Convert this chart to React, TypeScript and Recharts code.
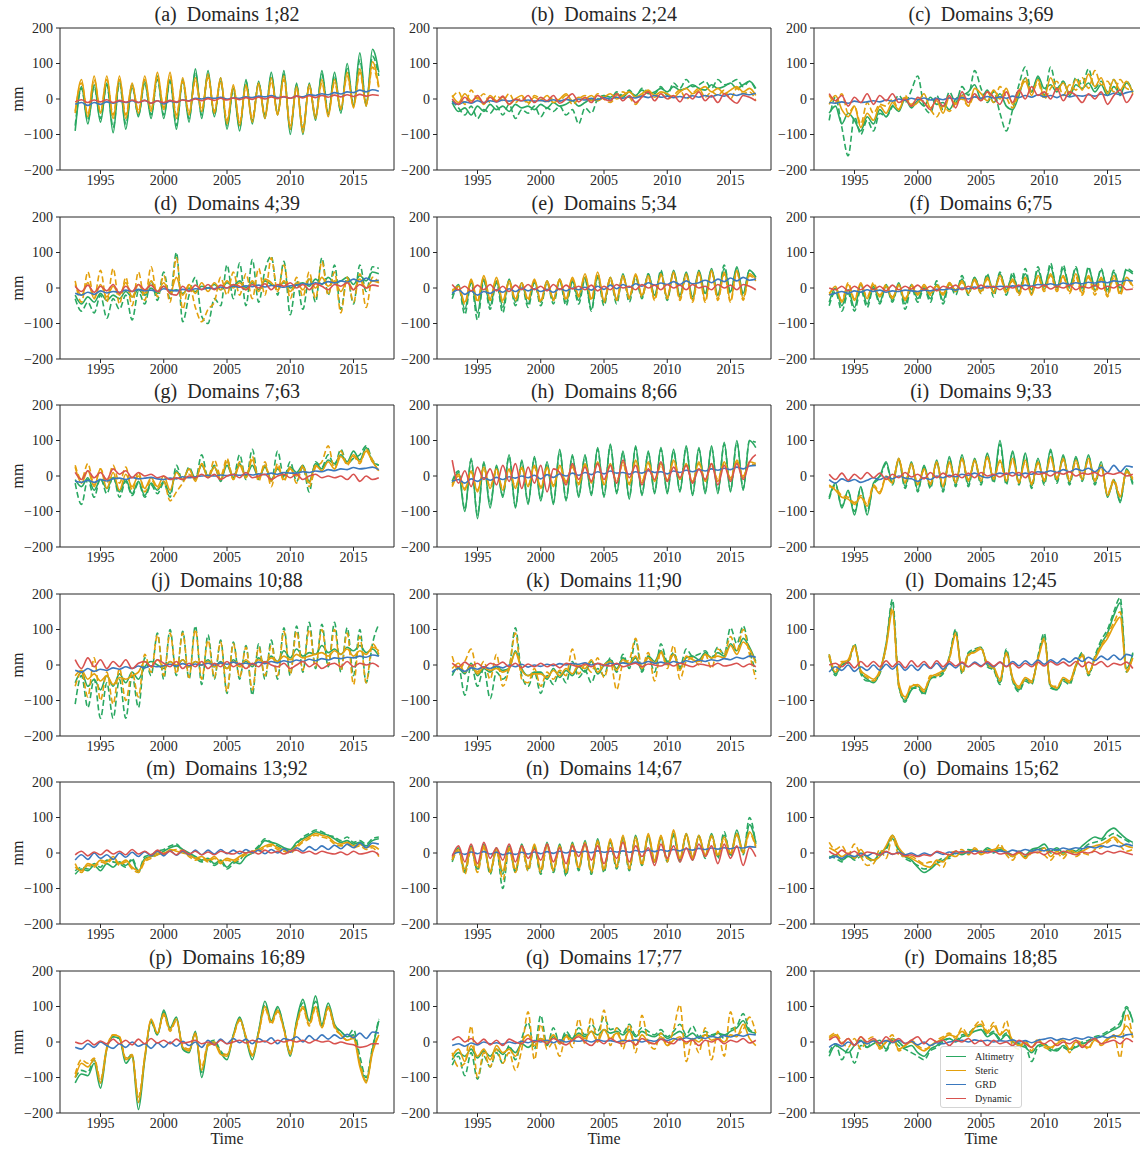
import React from "react";
import { LineChart, Line, XAxis, YAxis, ReferenceArea } from "recharts";

// one value every half year, starting 1993.0 and ending 2017.0 (49 values per series)
const startYear = 1993;
const stepYears = 0.5;

const panelTitles = [
  "(a)  Domains 1;82", "(b)  Domains 2;24", "(c)  Domains 3;69",
  "(d)  Domains 4;39", "(e)  Domains 5;34", "(f)  Domains 6;75",
  "(g)  Domains 7;63", "(h)  Domains 8;66", "(i)  Domains 9;33",
  "(j)  Domains 10;88", "(k)  Domains 11;90", "(l)  Domains 12;45",
  "(m)  Domains 13;92", "(n)  Domains 14;67", "(o)  Domains 15;62",
  "(p)  Domains 16;89", "(q)  Domains 17;77", "(r)  Domains 18;85",
];
const xTicks = [1995, 2000, 2005, 2010, 2015];
const yTicks = [-200, -100, 0, 100, 200];
const xDomain: [number, number] = [1991.8, 2018.2];
const yDomain: [number, number] = [-200, 200];

const altimetry: number[][] = [
  [-90,35,-70,40,-65,45,-95, 55,-85,40,-50,50,-55,65, -55,55,-85,55,-65,85,-55, 80,-50,60,-85,30,-90,55, -70,50,-55,75,-45,80,-100, 45,-100,45,-60,80,-45,75, -40,100,-20,130,-20,140,75],
  [-10,-35,-25,-45,-20,-35,-15, -30,-20,-35,-15,-25,-20,-30, -15,-25,-10,-20,-15,-5,-20, -10,0,-5,10,5,15,5, 20,10,25,15,20,30,20, 35,25,30,40,30,25,40, 30,35,45,30,40,50,30],
  [-40,-20,-70,-40,-60,-90,-50, -70,-30,-50,-20,-35,0,-25, -5,-20,5,-15,-10,-30,0, 10,20,40,0,25,-10,15, -20,-30,10,60,20,65,30, 40,20,50,10,40,30,45, 20,40,10,35,15,45,20],
  [-20,-45,-25,-40,-15,-35,-20, -30,-10,-25,-5,-20,0,-15, 5,-10,-5,-15,0,-10,5, 0,10,-5,15,5,20,0, 15,-5,20,10,5,15,0, 10,15,5,25,10,30,15, 20,30,10,35,20,45,40],
  [-20,10,-60,20,-70,25,-50, 20,-55,25,-40,15,-45,20, -40,20,-35,25,-40,20,-35, 30,-60,35,-40,30,-35,40, -30,35,-25,40,-20,45,-30, 50,-20,45,-25,50,-15,55, -20,55,-10,60,-15,50,30],
  [-40,0,-50,-5,-55,10,-45, 5,-40,10,-35,15,-45,10, -30,5,-30,10,-35,15,-10, 25,-15,30,-10,35,-10,40, -5,35,-10,40,-5,50,5, 60,0,55,5,55,0,55, 5,50,-5,45,0,50,40],
  [-10,-30,-5,-40,-10,-35,-5, -45,-10,-50,-15,-55,-20,-40, -15,-50,15,-10,20,-5,30, 0,25,-10,30,-5,35,0, 30,-5,25,-10,20,0,25, 10,30,-15,35,20,45,35, 60,40,70,45,80,40,30],
  [-20,10,-100,50,-120,40,-90, 30,-60,60,-90,45,-80,55, -70,40,-80,75,-70,60,-60, 60,-55,80,-60,90,-50,70, -65,85,-55,70,-50,80,-50, 75,-45,85,-55,80,-50,85, -50,95,-45,100,-40,100,80],
  [-60,-20,-90,-40,-110,-30,-110, -20,0,40,-20,50,-30,40, -40,30,-30,45,-40,55,-25, 60,-25,50,-20,65,-15,100, -20,70,-20,65,-30,50,-20, 75,-15,60,-20,55,-10,60, -20,40,-60,-10,-75,20,-20],
  [-50,-20,-60,-40,-70,-30,-60, -25,-50,-20,-40,-5,10,0, -10,10,-5,15,-5,10,0, 15,-5,10,-10,15,0,10, -5,20,5,25,10,40,20, 45,25,35,30,55,35,45, 30,50,40,55,35,45,25],
  [-20,-10,-25,5,-30,-10,-20, -5,-15,-10,40,-10,-30,-20, -20,-40,-10,-35,-15,-30,-5, -20,10,-25,0,15,-10,20, 0,20,-15,25,10,40,5, 30,-10,20,25,15,35,20, 35,25,60,40,75,50,10],
  [30,-25,0,10,55,-20,-40, -50,-20,60,175,-60,-100,-70, -60,-80,-40,-30,-20,20,95, -20,30,40,50,0,-10,-50, 40,-40,-70,-40,-50,20,80, -60,-70,-40,-50,0,30,-25, 20,60,90,140,175,-10,30],
  [-60,-45,-50,-35,-50,-30,-40, -25,-35,-20,-55,-15,-10,-5, 5,15,20,10,0,-10,-20, -15,-30,-20,-40,-25,-30,-10, 0,15,35,30,25,15,10, 30,40,50,60,55,50,40, 30,35,25,30,20,35,40],
  [-20,15,-50,20,-45,25,-55, 15,-60,20,-50,25,-45,20, -55,30,-50,25,-60,30,-45, 35,-55,40,-50,35,-40,45, -45,50,-30,50,-25,45,-20, 55,-20,55,-15,50,-10,55, -10,50,-5,65,0,80,30],
  [-15,-5,-20,-10,-15,0,-10, -20,0,15,50,10,-10,-20, -40,-55,-45,-30,-20,-10,0, -5,5,10,0,15,5,10, 0,-10,5,-5,10,15,25, 5,15,0,10,5,20,35, 45,40,60,70,55,40,30],
  [-115,-90,-95,-60,-130,-20,15, 10,-60,-40,-190,-50,60,20, 90,40,70,-20,-30,30,-100, -10,0,-30,-50,20,70,10, -50,30,115,60,100,40,-40, 60,120,60,130,50,110,50, 30,15,20,-60,-110,-20,60],
  [-50,-30,-40,-20,-45,-25,-40, -20,-35,-15,-30,-5,-15,0, 10,-5,15,0,20,10,25, 15,30,20,35,25,30,20, 35,15,30,20,15,25,10, 20,30,15,25,10,20,15, 25,20,30,40,60,30,25],
  [-40,-10,-20,-30,-10,5,-15, -5,5,-20,10,0,-15,-10, -30,-40,-20,-10,5,10,0, 15,20,30,35,15,25,5, 20,0,-10,-15,-30,-10,-5, -20,-25,-10,-20,-15,-5,0, 10,15,25,35,45,95,60],
];

const altimetryDash: number[][] = [
  [-75,30,-60,35,-55,40,-80, 45,-70,35,-45,45,-45,55, -45,50,-75,50,-55,75,-45, 70,-45,50,-75,25,-80,50, -60,45,-45,65,-40,70,-85, 40,-85,40,-50,70,-40,65, -35,85,-15,110,-15,120,65],
  [-5,-25,-45,-20,-55,-30,-40, -20,-45,-15,-55,-30,-40,-20, -50,-25,-35,-20,-45,-30,-70, -25,-40,0,10,-5,20,10, 25,5,30,20,15,35,10, 45,30,55,35,40,50,30, 55,40,45,55,35,50,25],
  [-60,5,-80,-160,-50,-100,-60, -90,-40,-50,-20,10,-10,25, 65,-20,-40,10,-30,20,-10, 35,10,80,30,-10,20,-40, -90,-30,40,90,20,60,10, 90,30,50,15,60,40,85, 30,50,20,55,10,50,20],
  [-30,-65,-40,-70,-20,-85,-30, -60,-20,-90,-10,-45,20,-35, 45,-30,100,-95,-20,30,-80, -100,-30,-50,65,-30,70,-50, 80,-40,50,90,-20,75,-75, 20,-60,30,-40,85,-20,65, -60,30,-45,65,-10,60,55],
  [-30,5,-75,15,-90,20,-60, 15,-70,20,-50,10,-55,15, -50,15,-45,20,-50,15,-45, 25,-65,30,-50,25,-45,35, -40,30,-30,40,-25,50,-35, 45,-25,40,-30,45,-20,50, -25,65,-15,55,-20,50,30],
  [-50,-10,-65,-15,-65,-5,-55, 0,-45,5,-40,10,-60,0, -40,0,-40,20,-45,10,-20, 35,-20,30,-15,40,-25,45, -20,45,-15,55,-15,60,-5, 70,-5,65,0,60,-10,60, -5,55,-15,50,-10,55,45],
  [-20,-80,-10,-60,-5,-50,0, -60,-15,-55,-20,-60,-25,-50, -20,-60,30,-15,25,-10,60, -5,30,-15,45,-5,60,-10, 75,-10,30,-15,70,-5,40, -15,25,-45,40,25,60,30, 75,35,50,60,85,45,30],
  [-15,15,-95,45,-110,35,-80, 25,-55,55,-85,40,-75,50, -65,35,-75,70,-65,55,-55, 55,-50,75,-55,85,-45,65, -60,80,-50,65,-45,75,-45, 70,-40,80,-50,75,-45,80, -45,90,-40,95,-35,100,95],
  [-65,-25,-85,-45,-100,-35,-100, -25,-5,35,-25,45,-35,35, -45,25,-35,40,-45,50,-30, 55,-30,45,-25,60,-20,90, -25,65,-25,60,-35,45,-25, 70,-20,55,-25,50,-15,55, -25,35,-55,-15,-70,15,-25],
  [-110,-30,-120,-40,-150,-50,-150, -40,-150,-30,-120,20,-30,90, -40,100,-30,95,-40,110,-55, 85,-40,70,-80,65,-40,55, -85,60,-40,70,-40,105,-30, 110,-20,120,-10,115,-5,120, -20,105,-30,100,-50,60,115],
  [-30,-5,-85,0,-60,-10,-95, -20,-40,-10,105,-30,-60,-20, -80,-30,-55,-20,-50,10,-35, -15,-50,-10,-30,20,-20,30, -10,70,-20,25,-20,60,10, 35,-5,45,25,30,40,20, 50,30,105,60,110,40,-20],
  [25,-30,5,5,60,-25,-45, -45,-25,55,185,-55,-105,-65, -65,-85,-35,-35,-25,25,100, -25,35,45,50,-5,-15,-55, 45,-45,-75,-45,-55,25,90, -65,-70,-45,-55,-5,35,-30, 25,70,100,150,190,-20,35],
  [-50,-40,-45,-30,-40,-20,-25, -30,-40,-15,-50,-10,-5,5, 10,20,25,5,-5,-15,-25, -20,-35,-25,-45,-30,-20,0, 5,20,40,30,20,10,5, 25,45,55,65,60,50,45, 35,45,30,35,25,40,45],
  [-25,10,-55,15,-50,20,-60, 10,-100,15,-55,20,-50,15, -60,25,-55,20,-65,25,-50, 30,-60,35,-55,30,-45,40, -50,45,-35,45,-30,40,-25, 50,-25,50,-20,45,-15,50, -15,60,-10,55,-5,100,25],
  [-10,-15,-25,-5,-20,-10,-15, -25,-5,10,40,5,-15,-25, -35,-45,-40,-25,-15,-15,5, 0,10,5,5,10,0,15, 5,-5,0,-10,5,10,15, 0,10,-5,5,0,10,25, 30,35,45,55,45,35,25],
  [-100,-80,-85,-50,-115,-15,15, 10,-50,-35,-170,-45,55,20, 85,35,65,-15,-25,25,-85, -5,5,-25,-40,20,65,10, -40,30,105,55,95,40,-30, 55,110,55,115,45,100,45, 30,15,35,-40,-100,-15,65],
  [-65,-40,-95,-30,-105,-40,-70, -30,-60,-10,-50,10,55,-20, 75,-10,40,-5,30,10,40, 20,50,30,70,35,40,25, 50,20,40,30,20,35,15, 30,50,20,45,15,30,20, 25,10,35,45,80,35,25],
  [-30,-5,-50,-20,-60,-10,-15, 5,-10,-25,5,-10,-20,-30, -40,-50,-25,-15,0,10,5, 20,25,40,45,20,30,10, 25,5,-5,-10,-55,-15,-10, -25,-20,-15,-25,-10,0,5, 15,20,30,40,55,100,55],
];

const steric: number[][] = [
  [-40,55,-50,65,-40,65,-55, 65,-55,45,-40,65,-35,75, -30,75,-55,60,-45,60,-35, 70,-40,60,-70,40,-75,40, -65,45,-55,60,-45,65,-85, 35,-95,40,-55,55,-50,55, -30,75,-25,85,-20,105,35],
  [10,-10,15,-5,5,-15,10, -5,5,-15,0,10,-10,5, -5,10,-10,0,15,-5,5, 0,10,-5,5,15,0,10, 20,5,15,25,10,20,15, 5,20,30,15,25,35,20, 30,15,25,35,20,30,10],
  [-15,10,-30,-50,-20,-80,-40, -60,-20,-40,-10,-30,5,-20, -10,15,-25,-5,-40,5,-15, 10,-20,30,15,-5,25,0, 30,-15,20,50,10,55,5, 60,25,45,15,55,25,70, 35,60,15,55,25,50,15],
  [10,-20,15,-30,10,-25,5, -20,15,-25,10,-15,20,-10, 15,-15,30,-20,10,-15,15, -10,15,-5,20,0,15,-5, 20,-10,25,15,-5,20,-10, 15,-5,25,0,30,5,20, -10,20,-5,25,0,20,15],
  [-10,5,-40,25,-35,35,-30, 30,-35,20,-30,15,-30,25, -35,20,-30,25,-30,30,-20, 40,-30,45,-35,30,-30,35, -25,40,-20,35,-30,40,-25, 45,-30,40,-35,45,-35,50, -30,45,-35,50,-30,40,25],
  [-20,5,-40,10,-35,15,-30, 10,-25,5,-30,10,-35,5, -20,10,-15,5,-20,15,-10, 20,-15,25,-10,30,-15,35, -10,25,-15,30,-20,35,-5, 40,-5,35,-10,40,-15,35, -10,30,-20,35,-15,30,5],
  [25,-20,15,-30,20,-35,10, -40,5,-30,0,-35,-5,-30, 0,-40,10,-10,20,-15,35, -5,25,-10,40,-10,30,-5, 45,-5,30,-15,25,-10,20, 0,25,-20,30,15,40,20, 55,35,60,40,70,40,15],
  [-30,0,-40,15,-45,25,-35, 20,-40,20,-35,25,-30,30, -35,25,-30,30,-20,30,-25, 35,-20,40,-25,35,-20,40, -25,45,-20,40,-15,35,-15, 45,-10,35,-20,40,-15,35, -15,40,-10,45,-5,40,35],
  [-25,-40,-60,-65,-80,-60,-85, -30,-50,-5,-20,50,-20,35, -25,20,-25,40,-30,40,-20, 50,-15,45,-15,55,-10,45, -15,50,-20,45,-25,40,-15, 55,-10,50,-15,45,-10,50, -15,30,-55,-15,-60,15,-10],
  [-30,-15,-40,-25,-45,-30,-55, -35,-40,-30,-20,10,-5,15, -5,10,0,15,-5,10,0, 10,-5,5,-10,10,-5,15, 0,15,5,20,10,25,15, 30,20,25,30,35,25,40, 30,45,25,40,30,50,40],
  [-10,5,-20,0,-25,-5,-15, -10,-20,-10,35,-15,-30,-25, -25,-35,-15,-30,-10,-25,0, -10,15,-20,0,10,-15,15, 5,25,-10,20,5,35,0, 30,-15,25,15,10,30,20, 25,20,55,30,65,45,5],
  [25,-20,5,15,55,-15,-30, -40,-15,50,150,-50,-90,-60, -55,-70,-35,-25,-15,20,85, -15,30,35,45,5,-5,-40, 35,-35,-60,-35,-45,15,70, -55,-65,-35,-45,0,25,-20, 15,50,75,110,135,-15,20],
  [-40,-50,-30,-35,-20,-25,-10, -30,-20,-40,-50,-20,-10,0, -5,10,5,0,-5,-15,-10, -20,-10,-25,-15,-20,-10,0, 5,10,20,25,15,10,5, 20,35,45,55,50,45,30, 25,30,20,25,15,20,10],
  [-15,10,-45,15,-40,20,-50, 10,-50,15,-45,20,-40,25, -45,25,-45,20,-50,25,-40, 30,-50,35,-45,40,-35,50, -40,45,-30,55,-20,50,-20, 65,-15,55,-10,50,-5,50, -5,45,0,55,5,60,20],
  [15,5,-10,0,-15,10,-15, -20,-10,20,50,15,-5,-15, -25,-35,-40,-20,-25,-5,-10, 5,0,10,-5,5,10,15, 5,-10,0,-15,5,0,15, -10,5,-5,10,0,5,15, 20,25,35,45,30,20,15],
  [-100,-60,-70,-50,-115,-20,20, 15,-50,-40,-170,-45,65,25, 80,35,65,-15,-25,25,-80, -10,-5,-35,-40,15,65,15, -40,25,100,55,90,35,-35, 50,100,50,100,40,100,45, 20,5,10,-70,-115,-30,20],
  [-40,-20,-55,-10,-40,-20,-50, -10,-30,-20,-40,0,20,-10, 10,0,20,-5,15,5,20, 10,30,0,35,10,25,0, 30,-10,20,0,-5,15,-10, 5,15,-5,10,0,20,5, 10,0,20,15,50,10,-10],
  [10,20,-5,10,-10,15,-5, 5,-15,0,10,-20,-10,0, -15,-25,-10,0,10,20,15, 30,15,40,50,25,45,20, 35,5,-10,0,-15,5,-10, -15,-5,5,-20,0,-10,-15, 5,-5,10,15,20,45,15],
];

const stericDash: number[][] = [
  [-35,45,-45,55,-35,55,-45, 55,-45,40,-35,55,-30,65, -25,65,-45,50,-40,50,-30, 60,-35,50,-60,35,-65,35, -55,40,-45,50,-40,55,-75, 30,-80,35,-45,45,-40,45, -25,65,-20,75,-15,90,30],
  [5,20,-15,25,0,15,-10, 10,-5,15,-10,5,-15,10, 0,-10,5,-5,10,-15,0, 10,-5,15,0,-10,10,20, 5,-15,10,20,5,15,0, 10,25,0,15,30,5,20, 10,25,0,30,15,20,-5],
  [10,-10,15,-40,-20,-70,-10, -40,-15,-20,0,-30,10,-15, 0,-10,-30,-50,-20,-35,-10, 0,-20,10,-5,20,-10,35, 5,-25,20,60,20,45,0, 30,50,10,40,25,60,30, 80,40,50,20,55,30,25],
  [20,-40,45,-30,50,-40,55, -45,30,-50,45,-35,60,-25, 35,-40,85,-60,10,-55,-95, -60,-40,30,-20,45,-20,40, -30,55,-20,85,-10,65,-30, 30,-25,45,-30,75,-20,45, -70,30,-40,40,-55,30,15],
  [-5,0,-45,20,-40,30,-35, 25,-40,15,-35,10,-35,20, -40,15,-35,20,-35,25,-25, 35,-35,40,-40,25,-35,30, -30,35,-25,30,-35,35,-30, 40,-35,35,-40,40,-40,45, -35,40,-40,45,-35,35,20],
  [-15,0,-35,15,-30,10,-25, 15,-20,10,-25,5,-30,10, -15,5,-20,10,-15,10,-5, 15,-10,20,-15,25,-10,30, -15,20,-20,25,-15,30,-10, 35,-10,30,-15,30,-20,30, -20,25,-25,30,-20,25,0],
  [30,-10,35,-25,20,-20,30, -20,25,-40,10,-45,-10,-35, -15,-70,-45,-20,5,-10,35, -5,45,0,50,-10,40,-5, 55,-15,40,-30,35,-15,25, -20,30,-30,25,40,85,20, 70,30,55,35,75,45,10],
  [-25,5,-35,10,-40,20,-30, 15,-35,15,-30,20,-25,25, -30,20,-25,25,-15,25,-20, 30,-15,35,-20,30,-15,35, -20,40,-15,35,-10,30,-10, 40,-5,30,-15,35,-10,30, -10,35,-5,40,0,35,30],
  [-30,-35,-55,-60,-75,-55,-80, -25,-45,0,-15,45,-15,30, -20,15,-20,35,-25,35,-15, 45,-10,40,-10,50,-5,40, -10,45,-15,40,-20,35,-10, 50,-5,45,-10,40,-5,45, -10,25,-50,-10,-55,10,-5],
  [-60,-20,-90,20,-100,-20,-110, -10,-100,-20,-90,30,-20,85, -30,90,-25,90,-35,100,-40, 70,-35,65,-75,60,-35,50, -70,50,-30,55,-30,95,-25, 95,-15,100,-5,100,0,100, -15,90,-55,80,-50,60,30],
  [25,-15,10,45,-20,10,-40, 30,-60,-10,90,-40,-50,-10, -60,-20,-40,-15,-30,45,-25, 0,-20,20,-35,10,-70,5, 15,75,-5,35,-45,40,-10, 55,-40,10,20,0,30,-10, 45,30,80,40,100,30,-40],
  [30,-15,10,10,50,-20,-35, -45,-20,55,160,-60,-95,-55, -60,-75,-30,-30,-20,15,90, -20,25,40,50,0,-10,-45, 30,-40,-65,-40,-50,20,75, -60,-60,-40,-50,-5,30,-25, 20,55,85,120,150,-20,25],
  [-30,-55,-35,-40,-25,-30,-15, -35,-25,-45,-55,-25,-15,-5, 0,5,10,5,-10,-20,-15, -25,-15,-30,-20,-25,-15,-5, 0,5,15,20,10,5,0, 15,30,40,50,45,40,25, 20,25,15,20,10,15,-10],
  [-20,5,-60,10,-55,15,-55, 5,-75,10,-55,15,-50,20, -55,20,-50,15,-55,20,-45, 25,-55,30,-50,35,-40,45, -45,40,-35,50,-25,45,-25, 60,-20,50,-15,45,-10,45, -10,40,-5,50,0,55,15],
  [30,10,20,-5,25,-10,-35, -30,10,-15,45,-5,-10,-10, -20,-30,-25,-30,-40,0,5, 10,-5,15,0,10,5,25, -5,-20,5,-15,0,10,-5, -20,0,-15,5,-10,0,-5, 10,15,30,40,20,5,10],
  [-90,-50,-60,-45,-105,-15,20, 15,-45,-35,-155,-40,60,25, 75,30,60,-10,-20,20,-70, -5,0,-30,-35,15,60,15, -35,25,95,50,85,35,-30, 45,95,45,95,40,95,40, 20,5,15,-60,-110,-25,20],
  [-30,-70,-60,45,-100,-30,-70, -20,-60,-30,-80,-20,85,-50, 50,-20,0,-40,20,-15,65, -5,70,0,90,-10,40,-20, 50,-30,75,0,-20,25,-10, 35,105,-55,10,-30,40,-50, 30,-40,85,20,35,70,25],
  [15,25,0,-15,10,-20,5, 15,-20,0,20,-25,-10,5, -10,-20,-15,5,15,25,10, 40,20,45,60,30,55,20, 60,-10,-20,5,-25,10,-15, -20,0,10,-30,5,-5,-20, 10,-10,5,20,-45,80,10],
];

const grd: number[][] = [
  [-15,-10,-18,-10,-15,-8,-12, -6,-10,-5,-10,-4,-12,-5, -14,-6,-10,-2,-5,2,0, 4,2,5,0,3,2,6, 4,8,6,10,4,6,2, 8,6,12,10,15,12,18, 14,20,18,25,20,26,22],
  [-10,-15,-8,-12,-5,-10,-5, -8,-3,-6,-2,-5,-3,-6, -4,-7,-2,-6,-1,-5,0, -3,2,-2,4,0,5,2, 6,3,8,4,10,5,8, 4,7,3,9,5,10,6, 12,8,14,10,15,12,16],
  [-10,-12,-8,-12,-6,-10,-8, -5,-8,-3,-6,0,-4,2, -2,3,-3,2,-2,3,0, 4,0,6,2,7,3,6, 2,8,4,10,5,12,6, 10,4,12,6,10,8,12, 8,14,10,16,12,18,22],
  [-15,-20,-12,-18,-8,-14,-10, -12,-6,-10,-4,-8,-6,-10, -2,-6,-8,-4,-6,-2,-4, 0,-2,3,0,5,2,6, 4,8,3,7,5,2,6, 8,12,10,15,12,18,14, 20,16,25,18,28,20,22],
  [-15,-5,-18,-8,-20,-10,-15, -5,-12,-2,-10,0,-8,-2, -10,-4,-12,-2,-8,0,-5, 2,-6,5,-4,8,-2,10, 2,12,5,15,8,14,10, 18,10,20,12,15,22,15, 25,18,28,20,30,22,25],
  [-20,-15,-10,-15,-8,-12,-5, -10,-6,-12,-8,-10,-6,-8, -10,-6,-8,-4,-5,-2,-6, 0,-2,3,-1,5,2,5, 3,6,4,8,5,10,8, 12,8,14,10,15,12,16, 14,18,15,20,18,22,20],
  [-15,-18,-12,-18,-10,-14,-8, -6,-10,-4,-8,-6,-4,-8, -10,-6,-8,-2,-5,-2,0, 2,0,3,1,4,2,5, 3,6,4,8,5,10,8, 8,12,10,14,12,18,15, 20,18,24,20,22,25,18],
  [-15,-10,-20,-8,-15,-5,-12, -4,-10,-2,-6,0,-5,2, -8,4,-4,6,0,8,2, 10,4,12,6,14,8,10, 5,12,8,15,10,12,6, 14,10,16,12,18,14,20, 16,22,18,25,20,28,30],
  [-10,-20,-8,-15,-10,-18,-12, -5,-10,-2,-8,0,-6,-8, -15,-5,-10,0,-5,2,-2, 5,2,8,0,-5,2,8, 5,10,2,8,5,12,10, 15,10,18,12,20,15,22, 12,25,10,30,12,28,25],
  [-15,-20,-10,-18,-12,-15,-8, -12,-5,-10,-3,-8,-2,-5, -2,2,-3,4,-2,3,0, 5,0,6,2,8,3,5, 2,8,4,10,6,12,8, 14,10,16,12,18,14,20, 18,22,20,25,22,28,25],
  [-20,-10,-18,-8,-12,-5,-10, -3,-8,0,-5,2,-6,0, -4,2,-2,4,0,5,2, 6,0,4,-2,5,2,6, 2,8,4,10,5,8,3, 10,5,12,8,14,10,15, 12,18,15,22,18,25,22],
  [-20,-5,-15,0,-18,-5,-15, 0,-15,2,-12,3,-15,0, -15,2,-10,5,-12,4,-8, 6,-5,8,-2,6,-5,8, -4,10,-2,12,0,14,2, 15,5,18,8,20,10,22, 12,25,15,28,15,30,25],
  [-20,-5,-18,0,-15,-5,-18, 0,-12,2,-10,4,-8,5, -8,6,-6,5,-5,8,-5, 8,-3,10,-2,8,-2,10, 0,8,-2,10,0,12,2, 15,5,18,8,20,10,22, 12,25,15,28,15,28,25],
  [-5,2,-4,3,-2,4,-3, 2,-5,0,-4,2,-3,3, -2,4,-1,5,0,6,2, 5,1,6,2,5,3,6, 2,7,3,8,4,9,5, 10,6,12,8,13,10,14, 11,15,12,16,14,18,16],
  [-15,-10,-15,-5,-10,-2,-8, 0,-6,3,-4,2,-5,0, -8,0,-6,2,-4,3,-2, 4,0,6,2,5,3,6, 2,8,4,10,5,10,6, 12,8,14,10,15,12,18, 14,20,16,22,18,25,20],
  [-15,-20,-5,-15,0,-10,-18, -5,-15,0,-12,-5,-18,-2, -15,0,-12,2,-10,0,-15, 5,-8,8,-5,10,-2,8, -5,10,0,12,-5,10,5, 15,0,18,5,20,8,20, 10,22,12,25,10,28,25],
  [-10,-5,-12,-3,-8,0,-5, -2,-6,0,-4,2,-2,4, 0,5,-2,6,0,4,2, 5,0,6,2,4,0,5, 2,6,0,5,2,8,4, 10,6,12,8,14,10,16, 12,18,14,20,16,22,20],
  [-15,-5,-12,0,-8,2,-5, 3,-3,4,-2,5,-4,2, -8,0,-10,-2,-5,0,2, 5,0,6,2,5,0,4, 2,6,0,4,-2,5,8, 12,5,10,6,12,8,14, 10,16,12,18,14,20,22],
];

const dynamic: number[][] = [
  [-8,-2,-10,-3,-8,-2,-10, -4,-9,-3,-10,-4,-12,-5, -10,-4,-8,-3,-6,0,-5, 1,-4,2,-3,3,-2,4, -1,5,0,6,1,7,2, 8,3,9,4,10,5,11, 6,12,7,13,8,12,10],
  [0,-15,5,-10,10,-12,5, -8,8,-15,0,-5,10,-10, 5,-5,10,-12,0,15,-8, 5,-10,10,0,-5,15,-5, 10,-10,5,20,-5,15,0, 10,-8,15,0,20,-5,10, -10,15,0,-12,10,5,-5],
  [15,-5,10,-20,5,-10,15, -15,10,-5,15,-10,0,-20, 5,-10,-30,0,-20,10,-25, 20,-10,15,-5,20,5,-15, 20,-10,25,0,35,10,20, 0,30,-5,20,10,-10,15, 0,20,-15,10,25,-10,15],
  [5,-10,8,-12,5,-8,10, -15,5,-10,10,-5,8,-10, 5,-15,-20,5,-10,8,-5, 10,-5,8,0,10,5,-5, 10,0,12,-5,10,5,15, 0,10,-5,12,5,-5,10, 5,15,-5,10,0,8,5],
  [10,-5,5,-8,8,-5,10, -8,5,-10,8,-5,10,-5, 5,-8,10,-5,8,-3,5, -5,8,-8,5,-5,10,0, 5,-5,10,0,8,-5,10, 0,8,-5,10,0,5,-5, 10,0,8,-5,10,5,-5],
  [0,-5,5,-8,5,-5,8, -5,5,-8,8,-5,5,-3, 8,-5,5,-8,5,0,8, -5,5,-3,8,0,5,-5, 5,0,8,-5,5,0,8, -3,5,0,8,-5,5,0, 8,-3,5,0,10,-5,-3],
  [10,-10,15,-5,10,-10,20, 5,15,-5,10,0,5,-5, 0,-10,-5,-10,0,-5,5, -5,5,-10,0,5,-5,10, -5,0,5,-10,0,5,-5, 5,-10,0,5,-5,0,-5, 0,-10,5,-15,0,-10,-5],
  [45,-20,15,-30,25,-10,20, -25,30,-15,35,-35,25,-20, 30,-45,20,10,-25,35,-10, 25,-15,35,-10,30,-20,45, -5,30,-25,20,-10,40,-15, 25,-5,30,-20,20,-10,35, -25,30,-15,35,-10,40,60],
  [5,-10,8,-12,5,-8,10, -5,8,-10,5,-5,10,-3, 5,-8,10,-5,8,-3,5, -5,8,-5,10,0,5,-3, 8,0,10,-5,12,5,8, 0,10,5,12,0,8,5, 10,0,8,5,10,0,5],
  [15,-10,20,-5,15,-10,10, -5,15,-10,5,10,-5,15, 5,-5,10,-10,5,-5,10, -10,5,-5,10,-5,5,-10, 5,-5,10,0,-5,5,-10, 0,10,-5,5,-10,0,5, -5,10,-5,5,0,5,-5],
  [5,-5,8,-3,5,-8,5, 0,8,-5,5,-8,3,-5, 5,-5,3,-8,5,0,-5, 3,-5,5,0,-3,5,-5, 0,5,-5,3,0,-3,5, -3,5,0,-5,3,0,-3, 5,-3,0,5,-5,3,-5],
  [0,5,-5,8,-8,10,-5, 10,-5,12,-5,10,-8,12, -5,10,-8,12,-5,10,-3, 8,-5,5,-5,10,-3,8, -5,5,-8,5,-5,8,-3, 10,0,8,-3,10,-5,8, 0,10,-5,5,0,8,-10],
  [-5,5,-8,3,-5,8,-3, 5,-5,10,-3,5,-5,8, -3,5,-5,8,-3,5,-5, 3,-5,5,0,-3,5,0, 5,-3,8,0,5,-3,5, 8,0,5,-3,5,0,-3, 3,-5,5,-3,0,5,-5],
  [-10,20,-25,25,-30,30,-15, 15,-20,25,-25,20,-15,10, -20,25,-25,15,-30,20,-10, 25,-20,20,-30,15,-15,30, -25,20,-10,15,-35,25,-15, 20,-25,15,-20,25,-10,20, -30,25,-15,20,-35,15,-10],
  [5,-5,8,-3,5,-8,3, 0,-5,5,-3,0,-8,-5, -10,-5,-8,5,0,-5,5, 0,5,-3,5,0,5,-3, 0,-5,3,-5,0,3,-5, 5,-3,5,0,-5,3,0, 5,-3,5,0,5,0,-5],
  [0,-5,5,-8,3,-5,8, -5,5,-8,8,-5,10,-3, 5,-5,8,-3,0,5,-5, 0,-8,5,-5,0,5,-3, 5,0,3,-5,5,0,5, 0,5,-3,5,0,3,-5, 0,-5,-8,-15,-12,-5,-5],
  [5,15,0,10,-5,8,-8, 5,-10,8,0,-5,10,0, 5,-5,10,0,-8,5,15, 0,-10,5,-5,10,0,-5, 5,-8,10,0,-5,8,0, -5,10,0,5,-10,5,0, 8,-5,5,0,10,-3,5],
  [5,15,-5,10,-10,15,0, 10,-5,15,0,10,-5,5, 15,-5,10,0,5,-10,5, 0,10,-5,5,-10,5,-5, 0,-10,5,-5,-15,0,-5, 5,-10,0,-5,5,-15,0, 10,-5,0,5,-5,10,0],
];

const GREEN = "#2aa862";
const ORANGE = "#e3a00c";
const BLUE = "#3a78be";
const RED = "#d8524f";

const seriesList = [
  { key: "alt", name: "Altimetry", values: altimetry, color: GREEN, dashed: false },
  { key: "altDash", name: "Altimetry", values: altimetryDash, color: GREEN, dashed: true },
  { key: "ste", name: "Steric", values: steric, color: ORANGE, dashed: false },
  { key: "steDash", name: "Steric", values: stericDash, color: ORANGE, dashed: true },
  { key: "grd", name: "GRD", values: grd, color: BLUE, dashed: false },
  { key: "dyn", name: "Dynamic", values: dynamic, color: RED, dashed: false },
];
const legendEntries = seriesList.filter((s) => !s.dashed);

const FONT = '"Liberation Serif", "DejaVu Serif", serif';
const INK = "#262626";

const toPoints = (vals: number[]) =>
  vals.map((v, i) => ({ t: startYear + stepYears * i, v }));

const minusFmt = (v: number) => (v < 0 ? "\u2212" + Math.abs(v) : String(v));

function LegendBox() {
  return (
    <div
      style={{
        position: "absolute",
        left: 940,
        top: 1046,
        width: 82,
        boxSizing: "border-box",
        background: "rgba(255,255,255,0.85)",
        border: "1px solid #d4d4d4",
        borderRadius: 3,
        padding: "2px 5px",
        fontFamily: FONT,
        fontSize: 10,
        color: INK,
      }}
    >
      {legendEntries.map((e) => (
        <div key={e.key} style={{ display: "flex", alignItems: "center", height: 14 }}>
          <span
            style={{
              display: "inline-block",
              width: 20,
              borderTop: `1.6px solid ${e.color}`,
              marginRight: 9,
            }}
          />
          <span>{e.name}</span>
        </div>
      ))}
    </div>
  );
}

function Panel({ index }: { index: number }) {
  const col = index % 3;
  const row = Math.floor(index / 3);
  const plotLeft = 60 + 377 * col;
  const plotTop = 28 + 188.6 * row;

  return (
    <>
      <div
        style={{
          position: "absolute",
          left: plotLeft,
          top: plotTop - 24,
          width: 334,
          textAlign: "center",
          fontFamily: FONT,
          fontSize: 20,
          lineHeight: "20px",
          whiteSpace: "pre",
          color: INK,
        }}
      >
        {panelTitles[index]}
      </div>
      <div style={{ position: "absolute", left: plotLeft - 60, top: plotTop - 28 }}>
        <LineChart width={400} height={200} margin={{ top: 28, right: 6, bottom: 0, left: 0 }}>
          <XAxis
            dataKey="t"
            type="number"
            domain={xDomain}
            ticks={xTicks}
            allowDataOverflow
            height={30}
            axisLine={false}
            tickSize={4}
            tickMargin={1}
            tickLine={{ stroke: INK }}
            tick={{ fontFamily: FONT, fontSize: 14, fill: INK }}
          />
          <YAxis
            type="number"
            domain={yDomain}
            ticks={yTicks}
            allowDataOverflow
            width={60}
            axisLine={false}
            tickSize={4}
            tickMargin={3}
            tickLine={{ stroke: INK }}
            tickFormatter={minusFmt}
            tick={{ fontFamily: FONT, fontSize: 14, fill: INK }}
          />
          {seriesList.map((s) => (
            <Line
              key={s.key}
              data={toPoints(s.values[index])}
              dataKey="v"
              name={s.name}
              type="monotone"
              stroke={s.color}
              strokeWidth={1.6}
              strokeDasharray={s.dashed ? "6 3" : undefined}
              dot={false}
              isAnimationActive={false}
            />
          ))}
          <ReferenceArea
            x1={xDomain[0]}
            x2={xDomain[1]}
            y1={yDomain[0]}
            y2={yDomain[1]}
            fill="none"
            stroke={INK}
            strokeWidth={1}
            ifOverflow="visible"
          />
        </LineChart>
      </div>
      {col === 0 && (
        <div
          style={{
            position: "absolute",
            left: -2,
            top: plotTop + 61,
            width: 40,
            height: 20,
            lineHeight: "20px",
            textAlign: "center",
            transform: "rotate(-90deg)",
            fontFamily: FONT,
            fontSize: 16,
            color: INK,
          }}
        >
          mm
        </div>
      )}
      {row === 5 && (
        <div
          style={{
            position: "absolute",
            left: plotLeft,
            top: plotTop + 159,
            width: 334,
            textAlign: "center",
            fontFamily: FONT,
            fontSize: 16,
            lineHeight: "18px",
            color: INK,
          }}
        >
          Time
        </div>
      )}
    </>
  );
}

export default function App() {
  return (
    <div
      style={{
        position: "absolute",
        left: 0,
        top: 0,
        width: 1140,
        height: 1149,
        overflow: "hidden",
        background: "#fff",
      }}
    >
      {panelTitles.map((_, i) => (
        <Panel key={i} index={i} />
      ))}
      <LegendBox />
    </div>
  );
}
